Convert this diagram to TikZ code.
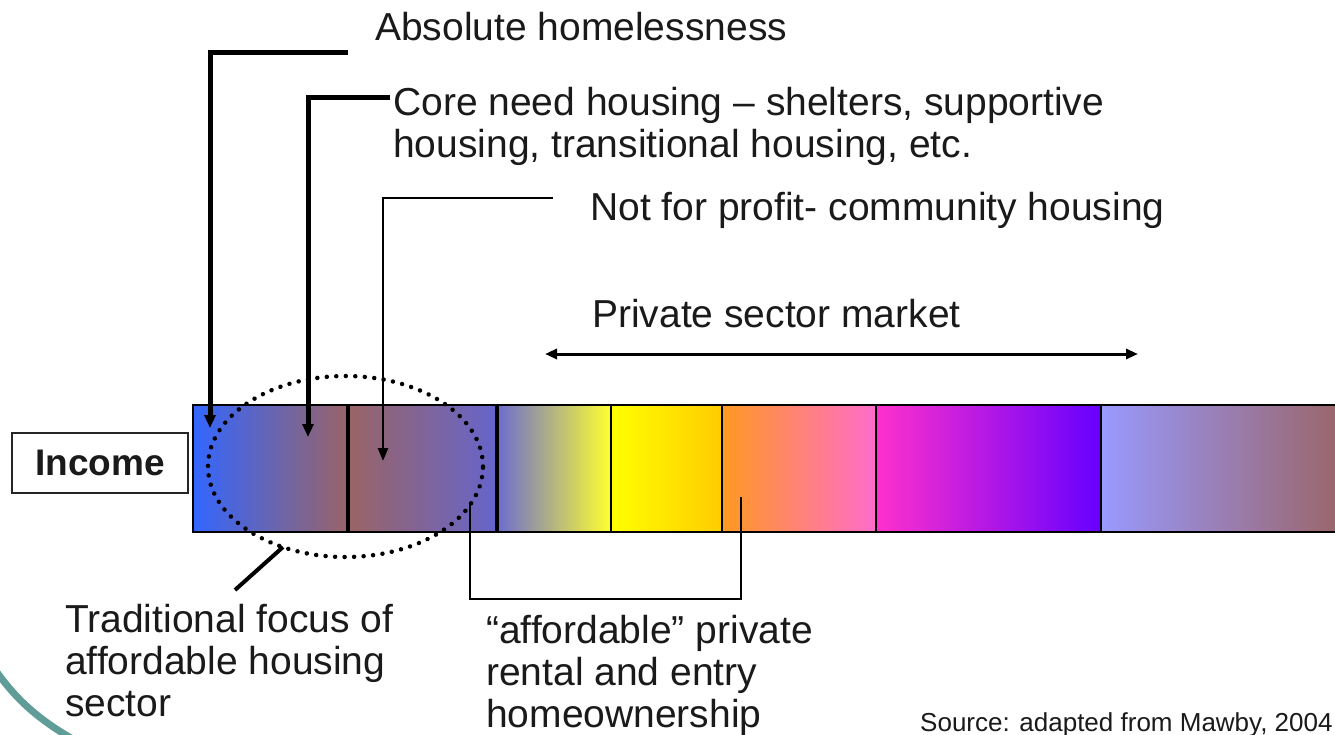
\documentclass[tikz,border=0pt]{standalone}
\usepackage{fontspec}
\setmainfont{Liberation Sans}
\usetikzlibrary{arrows.meta,shapes.geometric}
\definecolor{cBlue}{HTML}{3366FF}
\definecolor{cBrown}{HTML}{9A6466}
\definecolor{cSlate}{HTML}{6565CC}
\definecolor{cYel}{HTML}{FFFF30}
\definecolor{cGold}{HTML}{FFCC00}
\definecolor{cOrange}{HTML}{FF9922}
\definecolor{cPink}{HTML}{FF6CCC}
\definecolor{cMag}{HTML}{FF30CC}
\definecolor{cViolet}{HTML}{6600FF}
\definecolor{cPeri}{HTML}{9999FF}
\definecolor{cTeal}{HTML}{609C98}
\definecolor{cText}{HTML}{1A1A1A}
\begin{document}
\begin{tikzpicture}[x=1pt,y=-1pt,
  lbl/.style={anchor=base west,inner sep=0pt,align=left,text=cText,font=\fontsize{39}{42}\selectfont},
  seg/.style={draw=black,line width=1.5pt,anchor=north west,inner sep=0pt,minimum height=127pt},
  thickarrow/.style={line width=5pt,-{Triangle[length=13pt,width=11pt]}},
  thinarrow/.style={line width=2.5pt,-{Triangle[length=13pt,width=10pt]}},
  conn/.style={line width=2.5pt},
]
\clip (0,0) rectangle (1335,734);
\useasboundingbox (0,0) rectangle (1335,734);
\fill[white] (0,0) rectangle (1335,734);

% teal template arc
\draw[cTeal,line width=7pt] (-6,668) .. controls (16,700) and (40,721) .. (78,742);

% bar segments
\node[seg,minimum width=156pt,left color=cBlue,right color=cBrown] (s1) at (192,404) {};
\node[seg,minimum width=149pt,left color=cBrown,right color=cSlate] (s2) at (348,404) {};
\node[seg,minimum width=113pt,left color=cSlate!95!white,right color=cYel] (s3) at (497,404) {};
\node[seg,minimum width=111pt,left color=yellow,right color=cGold] (s4) at (610,404) {};
\node[seg,minimum width=154pt,left color=cOrange,right color=cPink] (s5) at (721,404) {};
\node[seg,minimum width=225pt,left color=cMag,right color=cViolet] (s6) at (875,404) {};
\node[seg,minimum width=245pt,left color=cPeri,right color=cBrown] (s7) at (1100,404) {};
\draw[line width=4pt] (s2.north west) -- (s2.south west);
\draw[line width=4pt] (s3.north west) -- (s3.south west);

% income box
\node[draw=black!85,line width=2pt,minimum width=176pt,minimum height=60pt,inner sep=0pt,
      text=cText,font=\fontsize{37}{40}\selectfont\bfseries] (inc) at (100,463) {Income};

% dotted ellipse
\node[ellipse,draw=black,line width=4.5pt,line cap=round,dash pattern=on 0.01pt off 9.5pt,
      minimum width=275pt,minimum height=181pt,inner sep=0pt] (focus) at (345.5,466.5) {};

% labels (multi-line nodes are anchored at the baseline of their last line)
\node[lbl] (abs) at (375,40) {Absolute homelessness};
\node[lbl] (core) at (393,157) {Core need housing -- shelters, supportive\\housing, transitional housing, etc.};
\node[lbl] (nfp) at (590,220) {Not for profit- community housing};
\node[lbl] (psm) at (592,327) {Private sector market};
\node[lbl] (trad) at (65,716) {Traditional focus of\\affordable housing\\sector};
\node[lbl] (aff) at (486,727) {``affordable'' private\\rental and entry\\homeownership};
\node[anchor=base west,inner sep=0pt,text=cText,font=\fontsize{26}{30}\selectfont] (src) at (920,731) {Source: adapted from Mawby, 2004};

% bracket arrows
\coordinate (a1e) at (348,52);
\coordinate (a1c) at (210,52);
\coordinate (a1t) at (210,428);
\draw[thickarrow] (a1e) -- (a1c) -- (a1t);

\coordinate (a2e) at (390,97);
\coordinate (a2c) at (308,97);
\coordinate (a2t) at (308,437);
\draw[thickarrow] (a2e) -- (a2c) -- (a2t);

\coordinate (a3e) at (553,198);
\coordinate (a3c) at (383,198);
\coordinate (a3t) at (383,461);
\draw[thinarrow] (a3e) -- (a3c) -- (a3t);

% private sector double arrow
\coordinate (pl) at (545,354);
\coordinate (pr) at (1138,354);
\draw[line width=3pt,{Triangle[length=12pt,width=10pt]}-{Triangle[length=12pt,width=10pt]}] (pl) -- (pr);

% traditional focus pointer
\coordinate (tf1) at (283,547);
\coordinate (tf2) at (235,590);
\draw[line width=4pt] (tf1) -- (tf2);

% affordable connector
\coordinate (af1) at (470,503);
\coordinate (af2) at (470,599);
\coordinate (af3) at (741,599);
\coordinate (af4) at (741,497);
\draw[conn] (af1) -- (af2) -- (af3) -- (af4);
\end{tikzpicture}
\end{document}
